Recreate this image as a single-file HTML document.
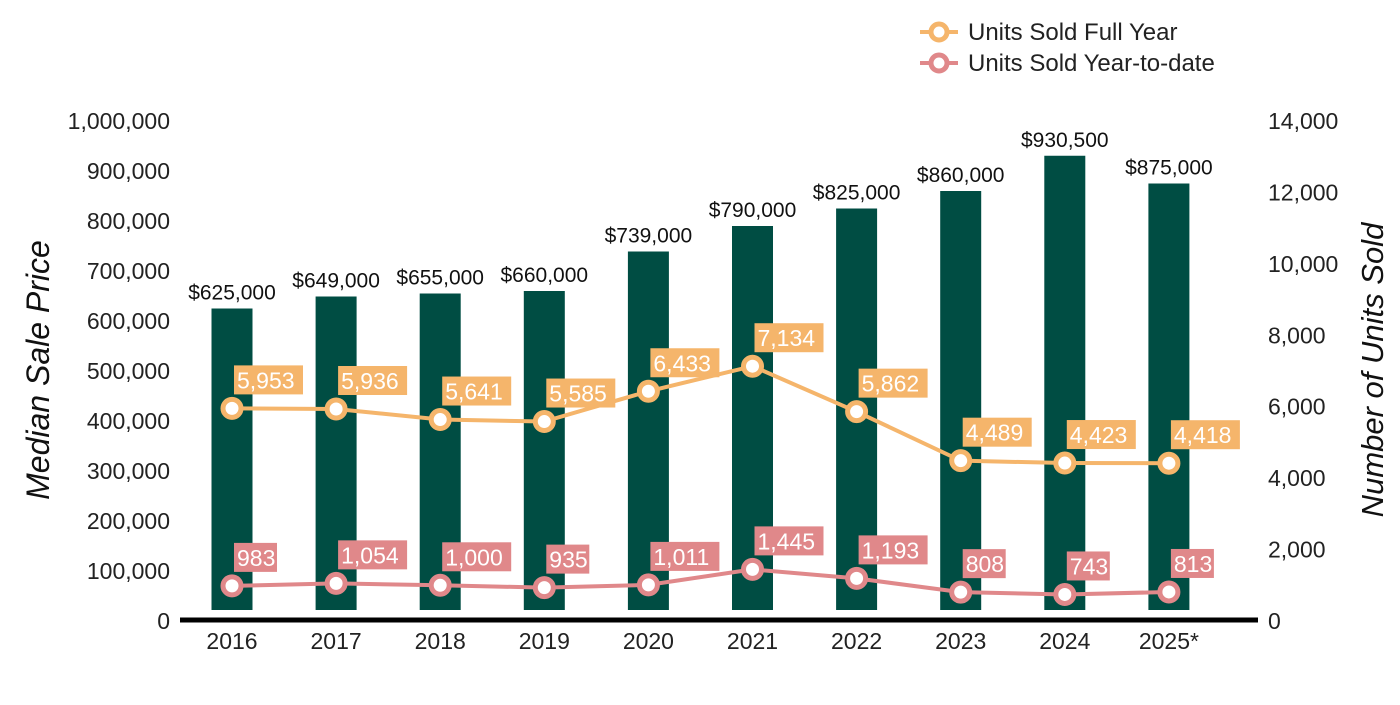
<!DOCTYPE html>
<html><head><meta charset="utf-8"><style>
body{margin:0;background:#fff;}
svg text{font-family:"Liberation Sans",Arial,sans-serif;}
</style></head><body>
<svg id="chart" width="1400" height="700" viewBox="0 0 1400 700" xmlns="http://www.w3.org/2000/svg"></svg>
<script>
const years = ["2016","2017","2018","2019","2020","2021","2022","2023","2024","2025*"];
const prices = [625000,649000,655000,660000,739000,790000,825000,860000,930500,875000];
const fullYear = [5953,5936,5641,5585,6433,7134,5862,4489,4423,4418];
const ytd = [983,1054,1000,935,1011,1445,1193,808,743,813];
const leftTicks = [0,100000,200000,300000,400000,500000,600000,700000,800000,900000,1000000];
const rightTicks = [0,2000,4000,6000,8000,10000,12000,14000];

const NS="http://www.w3.org/2000/svg";
const svg=document.getElementById('chart');
function mk(tag,attrs,parent){const e=document.createElementNS(NS,tag);for(const k in attrs)e.setAttribute(k,attrs[k]);(parent||svg).appendChild(e);return e;}
const y0=621, yTop=121;
const yL=v=>y0-(v/1000000)*(y0-yTop);
const yR=v=>y0-(v/14000)*(y0-yTop);
const xC=i=>232+i*104.1;
const fmt=v=>v.toLocaleString('en-US');

leftTicks.forEach(t=>{const e=mk('text',{x:170,y:yL(t)+8,'text-anchor':'end','font-size':23,fill:'#222'});e.textContent=fmt(t);

});
rightTicks.forEach(t=>{const e=mk('text',{x:1268,y:yR(t)+8,'font-size':23,fill:'#222'});e.textContent=fmt(t);

});

years.forEach((yr,i)=>{
 const top=yL(prices[i]);
 const b=mk('rect',{x:xC(i)-20.5,y:top,width:41,height:610-top,fill:'#004d43'});
 
 
 const l=mk('text',{x:xC(i),y:top-9,'text-anchor':'middle','font-size':21,fill:'#111'});l.textContent='$'+fmt(prices[i]);
 
 
 const t=mk('text',{x:xC(i),y:649,'text-anchor':'middle','font-size':23,fill:'#222'});t.textContent=yr;
 
 
});
const ax=mk('line',{x1:180,x2:1258,y1:620,y2:620,stroke:'#000','stroke-width':5});



function series(vals,color,name){
 const pts=vals.map((v,i)=>xC(i)+','+yR(v)).join(' ');
 const pl=mk('polyline',{points:pts,fill:'none',stroke:color,'stroke-width':4});
 
 
 vals.forEach((v,i)=>{
  const c=mk('circle',{cx:xC(i),cy:yR(v),r:9,fill:'#fff',stroke:color,'stroke-width':5});
  
  
 });
 vals.forEach((v,i)=>{
  const s=fmt(v);const w=s.length*13+4;
  const bx=mk('rect',{x:xC(i)+2,y:yR(v)-43,width:w,height:29,fill:color});
  
  
  const t=mk('text',{x:xC(i)+5,y:yR(v)-20,'font-size':23,fill:'#fff'});t.textContent=s;
  
  
 });
}
series(fullYear,'#f5b56b','full-year');
series(ytd,'#e0888a','ytd');

function legend(y,color,label,name){
 const g=mk('g',{});
 
 
 mk('line',{x1:920,x2:958,y1:y,y2:y,stroke:color,'stroke-width':4},g);
 mk('circle',{cx:939,cy:y,r:8,fill:'#fff',stroke:color,'stroke-width':5},g);
 const t=mk('text',{x:968,y:y+8,'font-size':24,fill:'#222'},g);t.textContent=label;
}
legend(32,'#f5b56b','Units Sold Full Year','legend-full-year');
legend(63,'#e0888a','Units Sold Year-to-date','legend-ytd');

const lt=mk('text',{x:0,y:0,'font-size':32,'font-style':'italic',fill:'#111','text-anchor':'middle',transform:'translate(49,370) rotate(-90)'});lt.textContent='Median Sale Price';


const rt=mk('text',{x:0,y:0,'font-size':31,'font-style':'italic',fill:'#111','text-anchor':'middle',transform:'translate(1383,370) rotate(-90)'});rt.textContent='Number of Units Sold';


</script>
</body></html>
